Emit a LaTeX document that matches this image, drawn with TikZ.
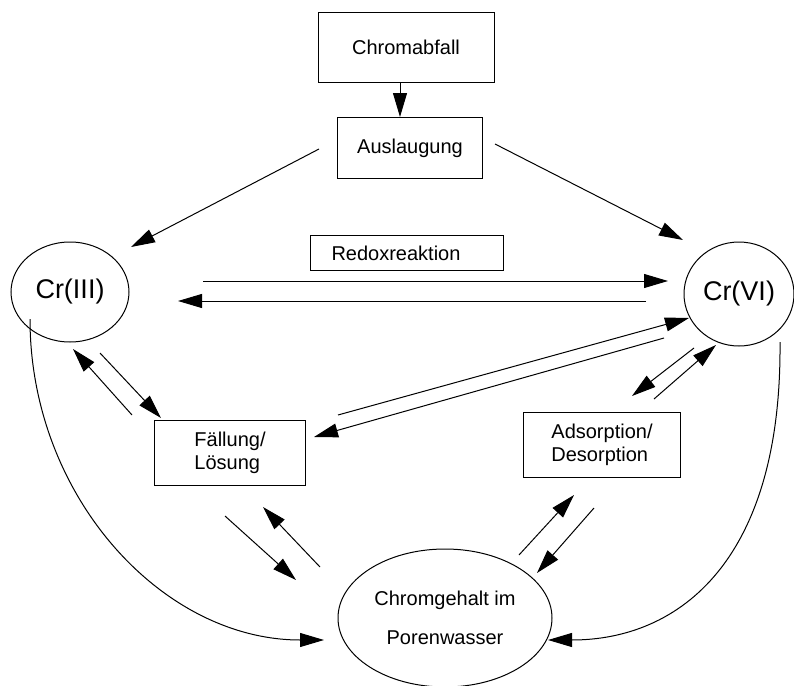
\documentclass[tikz,border=0pt]{standalone}
\usepackage{fontspec}
\setmainfont{Liberation Sans}
\usetikzlibrary{shapes,arrows.meta}
\begin{document}
\begin{tikzpicture}[x=0.5pt,y=-0.5pt,line width=0.5pt]%%Chromkreislauf
                \tikzstyle{kasten} = [rectangle, draw, inner sep=0pt, align=left, font=\fontsize{10}{11.5}\selectfont]
                \tikzstyle{oval}   = [ellipse, draw, inner sep=0pt, align=center]
                \tikzstyle{pfeil}  = [-{Triangle[length=12pt,width=7pt]}]
                \useasboundingbox (0,0) rectangle (794,686);
                \node [kasten, minimum width=88pt, minimum height=35pt](abfall) at (406,47) {Chromabfall};
                \node [kasten, minimum width=72.5pt, minimum height=30.5pt](laug) at (410,148) {Auslaugung};
                \node [kasten, inner xsep=10.5pt, text width=75.5pt, minimum height=17.5pt](redox) at (407,253) {Redoxreaktion};
                \node [kasten, minimum width=75.5pt, minimum height=32.5pt](fall) at (230,453) {Fällung/\\Lösung};
                \node [kasten, minimum width=78.5pt, minimum height=32.5pt](ads) at (602,445) {Adsorption/\\Desorption};
                \node [oval, minimum width=59pt, minimum height=50pt, font=\fontsize{13.5}{16}\selectfont](cr3) at (70,292) {Cr(III)};
                \node [oval, minimum width=55pt, minimum height=52pt, font=\fontsize{13.5}{16}\selectfont](cr6) at (739,294) {Cr(VI)};
                \node [oval, minimum width=107pt, minimum height=69pt, font=\fontsize{10}{11.5}\selectfont](poren) at (445,618) {Chromgehalt im\\[8pt]Porenwasser};
                \draw [pfeil] ([xshift=-3pt]abfall.south) -- ([xshift=-3pt]abfall.south |- laug.north);
                % freie Pfeilenden
                \foreach \n/\x/\y in {l1/319/149, l2/131/247, r1/495/144, r2/683/240,
                                      o1/203/281, o2/668/281, u1/646/301, u2/178/301,
                                      f1/132/415, f2/73/349, f3/100/353, f4/161/418,
                                      g1/338/415, g2/689/318, g3/664/338, g4/314/437,
                                      h1/694/348, h2/632/396, h3/654/399, h4/716/345,
                                      p1/225/516, p2/296/580, p3/320/567, p4/263/507,
                                      q1/519/555, q2/574/495, q3/594/508, q4/537/573}
                {
                        \coordinate (\n) at (\x,\y);
                }
                \foreach \a/\b in {l1/l2, r1/r2, o1/o2, u1/u2, f1/f2, f3/f4, g1/g2, g3/g4,
                                   h1/h2, h3/h4, p1/p2, p3/p4, q1/q2, q3/q4}
                {
                        \draw [pfeil] (\a) -- (\b);
                }
                \coordinate (k1) at (30,319);
                \coordinate (k2) at (324,640);
                \coordinate (k3) at (780,342);
                \coordinate (k4) at (548,640);
                \draw [pfeil] (k1) .. controls (30,496) and (162,640) .. (k2);
                \draw [pfeil] (k3) .. controls (782,560) and (680,640) .. (k4);
\end{tikzpicture}
\end{document}
